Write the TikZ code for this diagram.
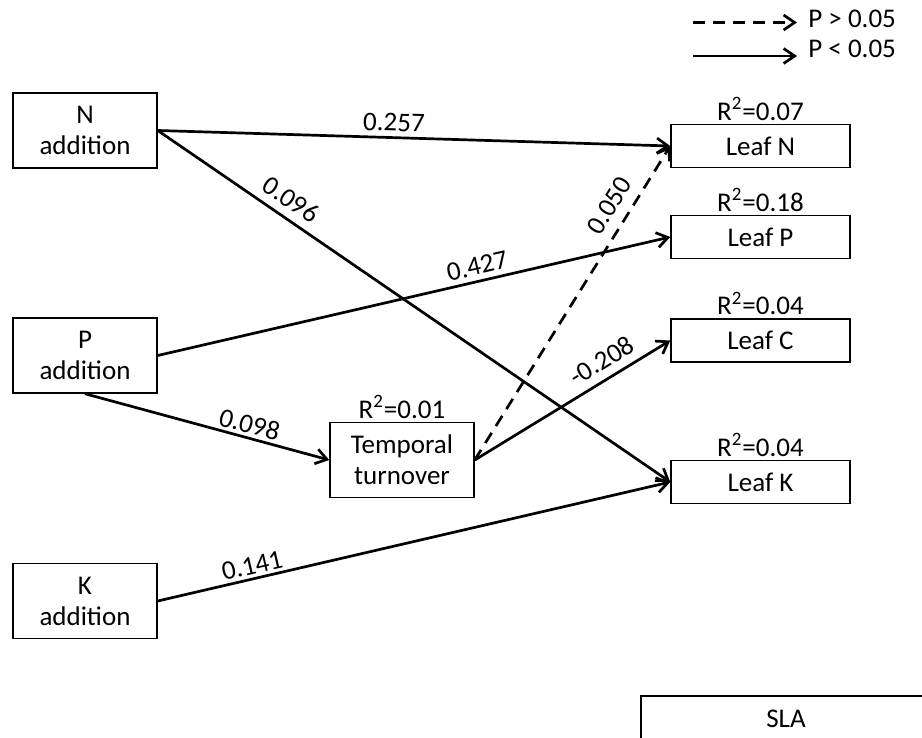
\documentclass[tikz,border=0pt]{standalone}
\usepackage{fontspec}
\setmainfont{Carlito}
\usetikzlibrary{arrows.meta}
\begin{document}
\begin{tikzpicture}[x=0.5pt,y=-0.5pt,
    font=\fontsize{13.5}{15.5}\selectfont,
    box/.style={draw,line width=0.75pt,align=center,minimum width=72pt,minimum height=37.5pt,inner sep=0pt},
    leaf/.style={draw,line width=0.75pt,minimum width=89.5pt,minimum height=21.5pt,inner sep=0pt},
    rsq/.style={above=1.5pt,inner sep=0pt},
    path/.style={line width=1.35pt,-{Straight Barb[length=5.5pt,width=7.5pt,line width=1.35pt]}},
    coef/.style={sloped,above,inner sep=2.5pt}]
  \useasboundingbox (0,0) rectangle (922,738);
  \clip (0,0) rectangle (922,738);
  \draw
    (85,130.5) node[box] (N){N\\addition}
    (85,355.5) node[box] (P){P\\addition}
    (85,601) node[box] (K){K\\addition}
    (402,460) node[box] (T){Temporal\\turnover}
    (760.5,146) node[leaf] (LN){Leaf N}
    (760.5,237) node[leaf] (LP){Leaf P}
    (760.5,340.5) node[leaf] (LC){Leaf C}
    (760.5,482) node[leaf] (LK){Leaf K}
    (786,719) node[draw,line width=0.75pt,minimum width=145pt,minimum height=23pt,inner sep=0pt] (SLA){SLA};
  % R squared
  \node[rsq] at (LN.north) {R\textsuperscript{2}=0.07};
  \node[rsq] at (LP.north) {R\textsuperscript{2}=0.18};
  \node[rsq] at (LC.north) {R\textsuperscript{2}=0.04};
  \node[rsq] at (LK.north) {R\textsuperscript{2}=0.04};
  \node[rsq] at (T.north) {R\textsuperscript{2}=0.01};
  % paths
  \begin{scope}[path]
    \draw (N.east) to node[coef,pos=0.46] {0.257} (LN.west);
    \draw (N.east) to node[coef,pos=0.24,inner sep=4pt] {0.096} (LK.west);
    \draw (P.east) to node[coef,pos=0.63] {0.427} (LP.west);
    \draw (P.south) to node[coef,pos=0.66,inner sep=1.5pt] {0.098} (T.west);
    \draw (K.east) to node[coef,pos=0.19,inner sep=1.5pt] {0.141} (LK.west);
    \draw[dash pattern=on 6pt off 4pt] (T.east) to node[coef,pos=0.776,inner sep=5pt] {0.050} (LN.west);
    \draw (T.east) to node[coef,pos=0.70,inner sep=4pt] {-0.208} (LC.west);
  \end{scope}
  % legend
  \coordinate (d0) at (693,22.5);
  \coordinate (d1) at (797,22.5);
  \coordinate (s0) at (693,56);
  \coordinate (s1) at (797,56);
  \node[anchor=base west,inner sep=0pt] (dl) at (808,28) {P > 0.05};
  \node[anchor=base west,inner sep=0pt] (sl) at (808,58) {P < 0.05};
  \draw[path,dash pattern=on 6pt off 4pt] (d0) -- (d1);
  \draw[path] (s0) -- (s1);
\end{tikzpicture}
\end{document}
